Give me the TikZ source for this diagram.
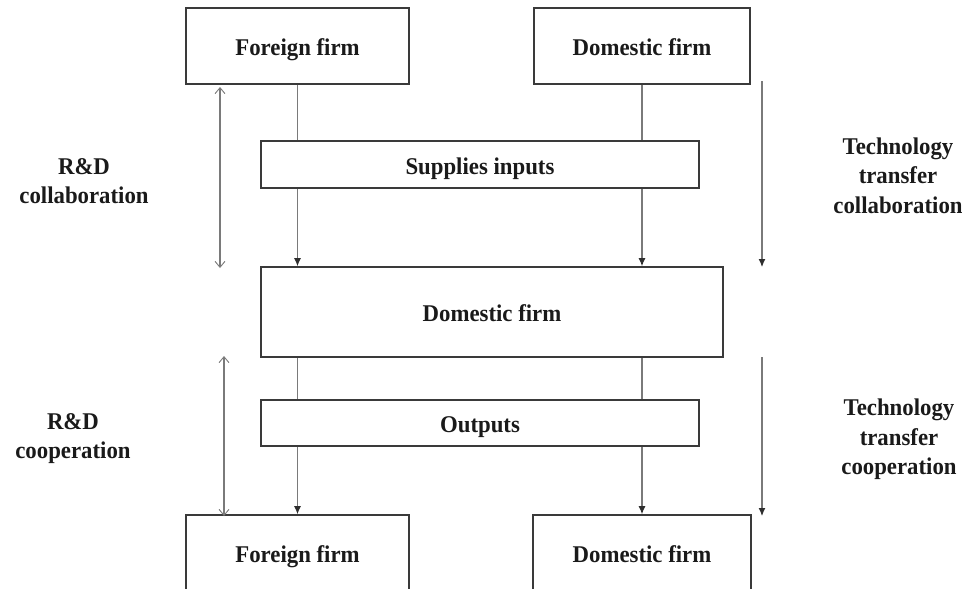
\documentclass[tikz,border=0pt]{standalone}
\usepackage{fontspec}
\setmainfont{Liberation Serif}[FakeStretch=0.95]
\usetikzlibrary{arrows.meta}
\definecolor{boxc}{HTML}{3A3A3A}
\definecolor{linec}{HTML}{7A7A7A}
\definecolor{headc}{HTML}{2E2E2E}
\definecolor{textc}{HTML}{1A1A1A}
\begin{document}
\begin{tikzpicture}[x=1pt,y=-1pt,
  box/.style={draw=boxc, line width=1.6pt, inner sep=0pt, text=textc,
    text height=21pt, text depth=2pt,
    font=\bfseries\fontsize{24}{29}\selectfont},
  lbl/.style={align=center, inner sep=0pt, text=textc,
    font=\bfseries\fontsize{24}{29.5}\selectfont},
  conn/.style={draw=linec, line width=1.1pt},
  fillarrow/.style={conn, -{Latex[length=8pt,width=7pt,fill=headc,color=headc]}},
  openarrow/.style={conn, {Straight Barb[length=6pt,width=10pt,line width=0.9pt]}-{Straight Barb[length=6pt,width=10pt,line width=0.9pt]}}
]
\clip (0,0) rectangle (962,589);
\fill[white] (0,0) rectangle (962,589);

% boxes
\node[box, minimum width=223pt, minimum height=76pt] (tf) at (297.5,46) {Foreign firm};
\node[box, minimum width=216pt, minimum height=76pt] (td) at (642,46) {Domestic firm};
\node[box, minimum width=438pt, minimum height=47pt] (sup) at (480,164.5) {Supplies inputs};
\node[box, minimum width=462pt, minimum height=90pt] (mid) at (492,312) {Domestic firm};
\node[box, minimum width=438pt, minimum height=46pt] (out) at (480,423) {Outputs};
\node[box, minimum width=223pt, minimum height=90pt] (bf) at (297.5,560) {};
\node[box, minimum width=218pt, minimum height=90pt] (bd) at (642,560) {};
\node[box, draw=none] (bft) at (297.5,553) {Foreign firm};
\node[box, draw=none] (bdt) at (642,553) {Domestic firm};

% side labels
\node[lbl] (rdcol) at (84,181) {R\&D\\collaboration};
\node[lbl] (rdcoop) at (73,438.5) {R\&D\\cooperation};
\node[lbl] (ttcol) at (898,175.5) {Technology\\transfer\\collaboration};
\node[lbl] (ttcoop) at (899,439.5) {Technology\\transfer\\cooperation};

% column connectors
\foreach \c/\b in {tf/bf, td/bd}{
  \draw[conn] (\c.south) -- (\c.south |- sup.north);
  \draw[fillarrow] (\c.south |- sup.south) -- (\c.south |- mid.north);
  \draw[conn] (\c.south |- mid.south) -- (\c.south |- out.north);
  \draw[fillarrow] (\c.south |- out.south) -- (\b.north);
}

% side arrows
\coordinate (rca) at (220,87);
\coordinate (rcb) at (220,268);
\coordinate (rpa) at (224,356);
\coordinate (rpb) at (224,516);
\coordinate (tca) at (762,81);
\coordinate (tcb) at (762,267);
\coordinate (tpa) at (762,357);
\coordinate (tpb) at (762,516);
\draw[openarrow] (rca) -- (rcb);
\draw[openarrow] (rpa) -- (rpb);
\draw[fillarrow] (tca) -- (tcb);
\draw[fillarrow] (tpa) -- (tpb);
\end{tikzpicture}
\end{document}
